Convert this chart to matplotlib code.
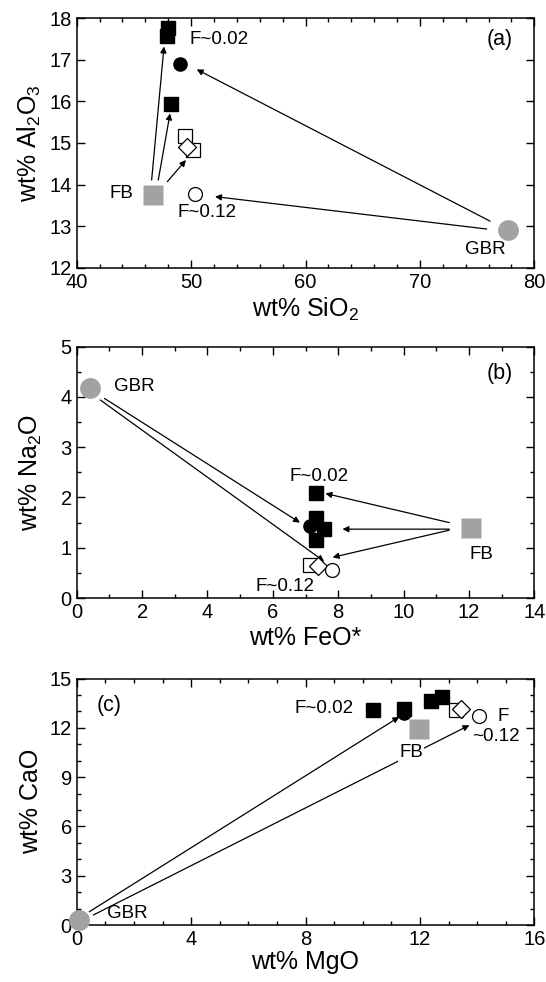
import matplotlib
matplotlib.use("Agg")
import matplotlib.pyplot as plt
from matplotlib.ticker import MultipleLocator

plt.rcParams['font.family'] = ['Liberation Sans', 'DejaVu Sans']
plt.rcParams['mathtext.default'] = 'regular'

GRAY = '#a2a2a2'

# ---- panel (a): SiO2 vs Al2O3 ----
a_fsq_x = [48.0, 47.9, 48.2]
a_fsq_y = [17.76, 17.57, 15.94]
a_fci = (49.0, 16.9)
a_osq_x = [49.5, 50.2]
a_osq_y = [15.17, 14.83]
a_dia = (49.6, 14.91)
a_oci = (50.3, 13.77)
a_fb = (46.7, 13.75)
a_gbr = (77.7, 12.91)
a_arrows = [((46.55, 14.11), (47.63, 17.32)),
            ((47.13, 14.11), (48.16, 15.71)),
            ((47.92, 14.07), (49.55, 14.59)),
            ((76.13, 13.12), (50.49, 16.77)),
            ((75.84, 12.93), (52.09, 13.71))]
a_labels = [("F~0.02", 49.9, 17.5, 'left'), ("FB", 43.9, 13.79, 'center'),
            ("F~0.12", 51.4, 13.33, 'center'), ("GBR", 75.7, 12.43, 'center')]
a_tag = ("(a)", 77.0, 17.48)

# ---- panel (b): FeO* vs Na2O ----
b_fsq_x = [7.32, 7.32, 7.57, 7.32]
b_fsq_y = [2.08, 1.59, 1.37, 1.16]
b_fci = (7.14, 1.43)
b_osq_x = [7.14]
b_osq_y = [0.66]
b_dia = (7.37, 0.64)
b_oci = (7.81, 0.56)
b_fb = (12.06, 1.39)
b_gbr = (0.41, 4.17)
b_arrows = [((11.4, 1.50), (7.61, 2.08)),
            ((11.4, 1.37), (8.13, 1.37)),
            ((11.4, 1.35), (7.83, 0.81)),
            ((0.85, 3.97), (6.83, 1.50)),
            ((0.72, 3.94), (7.57, 0.73))]
b_labels = [("GBR", 1.77, 4.2, 'center'), ("F~0.02", 7.42, 2.42, 'center'),
            ("F~0.12", 6.38, 0.22, 'center'), ("FB", 12.37, 0.86, 'center')]
b_tag = ("(b)", 12.93, 4.47)

# ---- panel (c): MgO vs CaO ----
c_fsq_x = [10.35, 11.43, 12.39, 12.76]
c_fsq_y = [13.11, 13.17, 13.64, 13.85]
c_fci = (11.46, 12.9)
c_osq_x = [13.26]
c_osq_y = [13.07]
c_dia = (13.44, 13.17)
c_oci = (14.08, 12.7)
c_fb = (11.98, 11.96)
c_gbr = (0.07, 0.3)
c_arrows = [((0.44, 0.81), (11.28, 12.67)),
            ((0.58, 0.61), (13.73, 12.16))]
c_labels = [("F~0.02", 8.66, 13.17, 'center'), ("F", 14.9, 12.67, 'center'),
            ("~0.12", 14.67, 11.5, 'center'), ("GBR", 1.78, 0.7, 'center')]
c_tag = ("(c)", 1.12, 13.38)

fig = plt.figure(figsize=(5.46, 9.82), dpi=100)
ax_a = fig.add_axes([0.1405, 0.7274, 0.8381, 0.254])
ax_b = fig.add_axes([0.1405, 0.391, 0.8381, 0.256])
ax_c = fig.add_axes([0.1405, 0.058, 0.8381, 0.251])


def draw(ax, fsq_x, fsq_y, fci, osq_x, osq_y, dia, oci, fb, gbr, arrows, labels, tag):
    for (x0, y0), (x1, y1) in arrows:
        ax.annotate("", xy=(x1, y1), xytext=(x0, y0),
                    arrowprops=dict(arrowstyle='-|>', lw=0.9, color='k',
                                    mutation_scale=9, shrinkA=0, shrinkB=0))
    ax.plot(*gbr, 'o', ms=15, color=GRAY, mec='none', clip_on=False, zorder=3)
    ax.plot(*fb, 's', ms=14, color=GRAY, mec='none', zorder=3)
    ax.plot(fsq_x, fsq_y, 's', ms=9.5, color='k', mec='k', ls='none', zorder=4)
    ax.plot(*fci, 'o', ms=9.5, color='k', zorder=4)
    ax.plot(osq_x, osq_y, 's', ms=10, mfc='white', mec='k', mew=0.9, ls='none', zorder=4)
    ax.plot(*dia, 'D', ms=9, mfc='white', mec='k', mew=0.9, zorder=5)
    ax.plot(*oci, 'o', ms=10, mfc='white', mec='k', mew=0.9, zorder=5)
    for txt, x, y, ha in labels:
        ax.text(x, y, txt, ha=ha, va='center', fontsize=13.5, zorder=6)
    ax.text(tag[1], tag[2], tag[0], ha='center', va='center', fontsize=15.5, zorder=6)
    ax.tick_params(which='both', direction='in', top=True, right=True,
                   labelsize=14.5, width=1)
    ax.tick_params(which='major', length=6)
    ax.tick_params(which='minor', length=3)
    for s in ax.spines.values():
        s.set_linewidth(1.1)


draw(ax_a, a_fsq_x, a_fsq_y, a_fci, a_osq_x, a_osq_y, a_dia, a_oci, a_fb, a_gbr,
     a_arrows, a_labels, a_tag)
ax_a.set_xlim(40, 80)
ax_a.set_ylim(12, 18)
ax_a.xaxis.set_major_locator(MultipleLocator(10))
ax_a.xaxis.set_minor_locator(MultipleLocator(2))
ax_a.yaxis.set_major_locator(MultipleLocator(1))
ax_a.set_xlabel("wt% SiO$_2$", fontsize=18, labelpad=3)
ax_a.set_ylabel("wt% Al$_2$O$_3$", fontsize=18, labelpad=5)

draw(ax_b, b_fsq_x, b_fsq_y, b_fci, b_osq_x, b_osq_y, b_dia, b_oci, b_fb, b_gbr,
     b_arrows, b_labels, b_tag)
ax_b.set_xlim(0, 14)
ax_b.set_ylim(0, 5)
ax_b.xaxis.set_major_locator(MultipleLocator(2))
ax_b.xaxis.set_minor_locator(MultipleLocator(1))
ax_b.yaxis.set_major_locator(MultipleLocator(1))
ax_b.yaxis.set_minor_locator(MultipleLocator(0.5))
ax_b.set_xlabel("wt% FeO*", fontsize=18, labelpad=3)
ax_b.set_ylabel("wt% Na$_2$O", fontsize=18, labelpad=12)

draw(ax_c, c_fsq_x, c_fsq_y, c_fci, c_osq_x, c_osq_y, c_dia, c_oci, c_fb, c_gbr,
     c_arrows, c_labels, c_tag)
# FB label sits on top of the lower arrow
ax_c.text(11.69, 10.49, "FB", ha='center', va='center', fontsize=13.5, zorder=6,
          bbox=dict(facecolor='white', edgecolor='none', pad=1))
ax_c.set_xlim(0, 16)
ax_c.set_ylim(0, 15)
ax_c.xaxis.set_major_locator(MultipleLocator(4))
ax_c.xaxis.set_minor_locator(MultipleLocator(1))
ax_c.yaxis.set_major_locator(MultipleLocator(3))
ax_c.yaxis.set_minor_locator(MultipleLocator(1))
ax_c.set_xlabel("wt% MgO", fontsize=18, labelpad=1)
ax_c.set_ylabel("wt% CaO", fontsize=18, labelpad=5)

fig.savefig("out.png", dpi=100)
